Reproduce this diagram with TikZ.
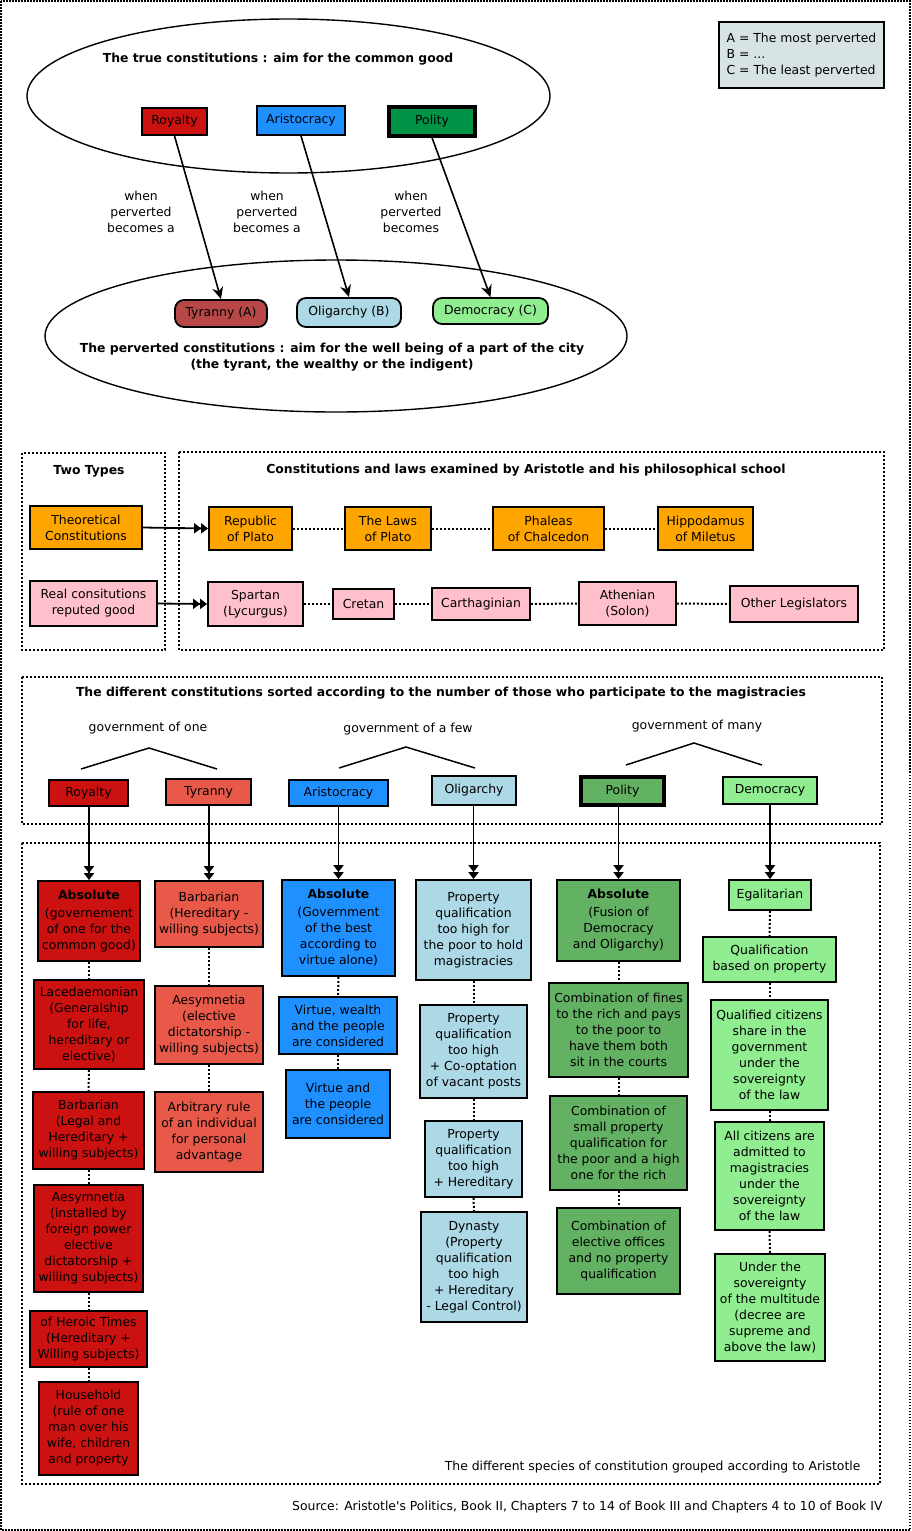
\documentclass[tikz,border=0pt]{standalone}
\usepackage{fontspec}
\setmainfont{DejaVu Sans}
\usetikzlibrary{arrows.meta,shapes.geometric}

\begin{document}
\begin{tikzpicture}[x=1pt,y=-1pt,
  font=\fontsize{12.4}{16}\selectfont,
  box/.style={draw,line width=1.8pt,align=center,inner xsep=4pt,inner ysep=4pt},
  wh/.style 2 args={minimum width=#1pt,minimum height=#2pt},
  pill/.style={box,rounded corners=9pt},
  heavy/.style={box,line width=3.2pt},
  dotline/.style={line width=2pt,dash pattern=on 2pt off 2pt},
  frame/.style={line width=1.3pt,dash pattern=on 1.5pt off 1.5pt},
  perv/.style={-{Stealth[length=12pt,width=11pt]},line width=1.6pt},
  down/.style={-{Triangle[length=7pt,width=10pt]Triangle[length=7pt,width=10pt]},line width=1.8pt},
  caret/.style={line width=1.5pt},
  oval/.style={ellipse,draw,line width=1.4pt,inner sep=0pt}]
\definecolor{royalred}{HTML}{CC1111}
\definecolor{tyrred}{HTML}{E8594A}
\definecolor{tyrdark}{HTML}{B84848}
\definecolor{aristoblue}{HTML}{1E90FF}
\definecolor{oliblue}{HTML}{ADD8E6}
\definecolor{polgreen}{HTML}{009245}
\definecolor{polmid}{HTML}{63B263}
\definecolor{demogreen}{HTML}{90EE90}
\definecolor{theoorange}{HTML}{FFA500}
\definecolor{realpink}{HTML}{FFC0CB}
\definecolor{legendgray}{HTML}{D8E4E4}
\useasboundingbox (0,0) rectangle (912,1531);
\draw[frame] (1,1) rectangle (910,1530);

% true and perverted constitutions
\node[oval,minimum width=523pt,minimum height=154pt] (true) at (288.5,96) {};
\node[oval,minimum width=582pt,minimum height=152pt] (perverted) at (336,336) {};
\node[font=\fontsize{12.4}{16}\selectfont\bfseries] at (278,59) {The true constitutions : aim for the common good};
\node[font=\fontsize{12.4}{16}\selectfont\bfseries,align=center] at (332,357)
  {The perverted constitutions : aim for the well being of a part of the city\\(the tyrant, the wealthy or the indigent)};
\node[box,fill=royalred,wh={65}{27}] (royalty) at (174.5,121.5) {Royalty};
\node[box,fill=aristoblue,wh={88}{29}] (aristo) at (301,120.5) {Aristocracy};
\node[heavy,fill=polgreen,wh={86}{29}] (polity) at (432,121.5) {Polity};
\node[pill,fill=tyrdark,wh={92}{27}] (tyrA) at (221,313.5) {Tyranny (A)};
\node[pill,fill=oliblue,wh={104}{29}] (oligB) at (349,312.5) {Oligarchy (B)};
\node[pill,fill=demogreen,wh={115}{26}] (demoC) at (490.5,311) {Democracy (C)};
\node[align=center] at (141,212) {when\\perverted\\becomes a};
\node[align=center] at (267,212) {when\\perverted\\becomes a};
\node[align=center] at (411,212) {when\\perverted\\becomes};
\foreach \a/\b in {royalty/tyrA,aristo/oligB,polity/demoC}
  \draw[perv] (\a.south) -- (\b.north);
\node[box,fill=legendgray,align=left,wh={165}{66}] (legend) at (801.5,55)
  {A = The most perverted\\B = ...\\C = The least perverted};

% two types / examined constitutions
\draw[dotline] (22,453) rectangle (165,650);
\draw[dotline] (179,452) rectangle (884,650);
\node[font=\fontsize{12.4}{16}\selectfont\bfseries] at (89,471) {Two Types};
\node[font=\fontsize{12.4}{16}\selectfont\bfseries] at (526,470) {Constitutions and laws examined by Aristotle and his philosophical school};
\node[box,fill=theoorange,wh={112}{43}] (theo) at (86,527.5) {Theoretical\\Constitutions};
\node[box,fill=theoorange,wh={83}{43}] (republic) at (250.5,528.5) {Republic\\of Plato};
\node[box,fill=theoorange,wh={86}{43}] (laws) at (388,528.5) {The Laws\\of Plato};
\node[box,fill=theoorange,wh={111}{43}] (phaleas) at (548.5,528.5) {Phaleas\\of Chalcedon};
\node[box,fill=theoorange,wh={95}{43}] (hippo) at (705.5,528.5) {Hippodamus\\of Miletus};
\node[box,fill=realpink,wh={127}{45}] (real) at (93.5,603.5) {Real consitutions\\reputed good};
\node[box,fill=realpink,wh={95}{44}] (spartan) at (255.5,604) {Spartan\\(Lycurgus)};
\node[box,fill=realpink,wh={61}{30}] (cretan) at (363.5,604) {Cretan};
\node[box,fill=realpink,wh={98}{32}] (carth) at (481,604) {Carthaginian};
\node[box,fill=realpink,wh={97}{43}] (athen) at (627.5,603.5) {Athenian\\(Solon)};
\node[box,fill=realpink,wh={128}{36}] (other) at (794,604) {Other Legislators};
\draw[down] (theo.east) -- (republic.west);
\draw[down] (real.east) -- (spartan.west);
\foreach \a/\b in {republic/laws,laws/phaleas,phaleas/hippo,spartan/cretan,cretan/carth,carth/athen,athen/other}
  \draw[dotline] (\a.east) -- (\b.west);

% number of rulers
\draw[dotline] (22,677) rectangle (882,824);
\node[font=\fontsize{12.4}{16}\selectfont\bfseries] at (441,693) {The different constitutions sorted according to the number of those who participate to the magistracies};
\node at (148,728) {government of one};
\node at (408,729) {government of a few};
\node at (697,726) {government of many};
\draw[caret] (81,769) -- (149,748) -- (217,769);
\draw[caret] (339,768) -- (406,747) -- (475,768);
\draw[caret] (626,765) -- (694,743) -- (762,765);
\node[box,fill=royalred,wh={79}{26}] (sroyal) at (88.5,793) {Royalty};
\node[box,fill=tyrred,wh={85}{26}] (styr) at (208.5,792) {Tyranny};
\node[box,fill=aristoblue,wh={99}{26}] (saris) at (338.5,793) {Aristocracy};
\node[box,fill=oliblue,wh={84}{29}] (solig) at (474,790.5) {Oligarchy};
\node[heavy,fill=polmid,wh={83}{28}] (spol) at (622.5,791) {Polity};
\node[box,fill=demogreen,wh={94}{27}] (sdemo) at (770,790.5) {Democracy};

% species of constitution
\draw[dotline] (22,843) rectangle (880,1484);
\node[anchor=east] at (864,1467) {The different species of constitution grouped according to Aristotle};
\node[anchor=east] at (886,1507) {Source: Aristotle\textquotesingle s Politics, Book II, Chapters 7 to 14 of Book III and Chapters 4 to 10 of Book IV};

\node[box,fill=royalred,wh={102}{80}] (r1) at (89,921) {\textbf{Absolute}\\[2pt](governement\\of one for the\\common good)};
\node[box,fill=royalred,wh={110}{89}] (r2) at (89,1024.5) {Lacedaemonian\\(Generalship\\for life,\\hereditary or\\elective)};
\node[box,fill=royalred,wh={111}{77}] (r3) at (88.5,1130.5) {Barbarian\\(Legal and\\Hereditary +\\willing subjects)};
\node[box,fill=royalred,wh={109}{107}] (r4) at (88.5,1238.5) {Aesymnetia\\(installed by\\foreign power\\elective\\dictatorship +\\willing subjects)};
\node[box,fill=royalred,wh={117}{56}] (r5) at (88.5,1339) {of Heroic Times\\(Hereditary +\\Willing subjects)};
\node[box,fill=royalred,wh={99}{93}] (r6) at (88.5,1428.5) {Household\\(rule of one\\man over his\\wife, children\\and property};

\node[box,fill=tyrred,wh={104}{66}] (t1) at (209,914) {Barbarian\\(Hereditary -\\willing subjects)};
\node[box,fill=tyrred,wh={108}{78}] (t2) at (209,1025) {Aesymnetia\\(elective\\dictatorship -\\willing subjects)};
\node[box,fill=tyrred,wh={108}{80}] (t3) at (209,1132) {Arbitrary rule\\of an individual\\for personal\\advantage};

\node[box,fill=aristoblue,wh={113}{96}] (a1) at (338.5,928) {\textbf{Absolute}\\[2pt](Government\\of the best\\according to\\virtue alone)};
\node[box,fill=aristoblue,wh={118}{57}] (a2) at (338,1025.5) {Virtue, wealth\\and the people\\are considered};
\node[box,fill=aristoblue,wh={104}{68}] (a3) at (338,1104) {Virtue and\\the people\\are considered};

\node[box,fill=oliblue,wh={115}{100}] (o1) at (473.5,930) {Property\\qualification\\too high for\\the poor to hold\\magistracies};
\node[box,fill=oliblue,wh={107}{93}] (o2) at (473.5,1051.5) {Property\\qualification\\too high\\+ Co-optation\\of vacant posts};
\node[box,fill=oliblue,wh={97}{76}] (o3) at (473.5,1159) {Property\\qualification\\too high\\+ Hereditary};
\node[box,fill=oliblue,wh={106}{110}] (o4) at (474,1267) {Dynasty\\(Property\\qualification\\too high\\+ Hereditary\\- Legal Control)};

\node[box,fill=polmid,wh={123}{81}] (p1) at (618.5,920.5) {\textbf{Absolute}\\[2pt](Fusion of\\Democracy\\and Oligarchy)};
\node[box,fill=polmid,wh={139}{94}] (p2) at (618.5,1030) {Combination of fines\\to the rich and pays\\to the poor to\\have them both\\sit in the courts};
\node[box,fill=polmid,wh={137}{94}] (p3) at (618.5,1143) {Combination of\\small property\\qualification for\\the poor and a high\\one for the rich};
\node[box,fill=polmid,wh={123}{86}] (p4) at (618.5,1251) {Combination of\\elective offices\\and no property\\qualification};

\node[box,fill=demogreen,wh={82}{30}] (d1) at (770,895) {Egalitarian};
\node[box,fill=demogreen,wh={133}{45}] (d2) at (769.5,959.5) {Qualification\\based on property};
\node[box,fill=demogreen,wh={117}{110}] (d3) at (769.5,1055) {Qualified citizens\\share in the\\government\\under the\\sovereignty\\of the law};
\node[box,fill=demogreen,wh={109}{108}] (d4) at (769.5,1176) {All citizens are\\admitted to\\magistracies\\under the\\sovereignty\\of the law};
\node[box,fill=demogreen,wh={110}{107}] (d5) at (770,1307.5) {Under the\\sovereignty\\of the multitude\\(decree are\\supreme and\\above the law)};

\foreach \a/\b in {sroyal/r1,styr/t1,saris/a1,solig/o1,spol/p1,sdemo/d1}
  \draw[down] (\b.north |- \a.south) -- (\b.north);
\foreach \a/\b in {r1/r2,r2/r3,r3/r4,r4/r5,r5/r6,t1/t2,t2/t3,a1/a2,a2/a3,
  o1/o2,o2/o3,o3/o4,p1/p2,p2/p3,p3/p4,d1/d2,d2/d3,d3/d4,d4/d5}
  \draw[dotline] (\a.south) -- (\b.north);
\end{tikzpicture}
\end{document}
